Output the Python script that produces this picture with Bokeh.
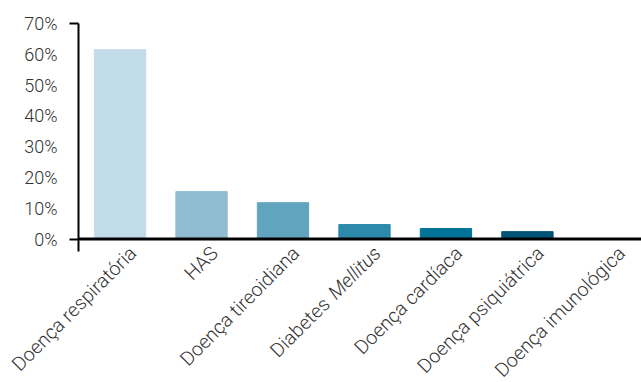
import math
from bokeh.plotting import figure
from bokeh.models import Range1d, FixedTicker, Span, PrintfTickFormatter, ColumnDataSource
from bokeh.core.properties import value
from bokeh.embed import file_html
from bokeh.resources import INLINE

categories = ["Doença respiratória", "HAS", "Doença tireoidiana", "Diabetes Mellitus",
              "Doença cardíaca", "Doença psiquiátrica", "Doença imunológica"]
italic_parts = ["", "", "", "Mellitus", "", "", ""]
values = [61.5, 15.4, 11.8, 4.7, 3.4, 2.4, 0.0]
colors = ["#c2dbe8", "#90bcd2", "#61a4be", "#2e8aab", "#007396", "#005475", "#003f5c"]
y_ticks = [0, 10, 20, 30, 40, 50, 60, 70]

FONT = "Roboto Light"
TEXT_COLOR = "#333333"
LABEL_SIZE = 19.5
ITALIC_SHIFT = 72  # px along the label direction taken by the italic part + space

xs = list(range(1, len(categories) + 1))

p = figure(width=641, height=382, x_range=Range1d(0.49, 7.4), y_range=Range1d(-4.05, 70),
           output_backend="svg", toolbar_location=None,
           min_border_left=78, min_border_right=0, min_border_top=23, min_border_bottom=131)
p.outline_line_color = None
p.xgrid.visible = False
p.ygrid.visible = False
p.xaxis.visible = False

bars = ColumnDataSource(dict(x=xs, top=values, color=colors))
p.vbar(x="x", top="top", bottom=0, width=0.63, color="color", source=bars)

yax = p.yaxis[0]
yax.ticker = FixedTicker(ticks=y_ticks, minor_ticks=[y_ticks[0], y_ticks[-1]])
yax.formatter = PrintfTickFormatter(format="%d%%")
yax.major_tick_out = 0
yax.major_tick_in = 0
yax.minor_tick_out = 9
yax.minor_tick_in = 0
yax.minor_tick_line_width = 2
yax.minor_tick_line_color = "black"
yax.axis_line_width = 2
yax.axis_line_color = "black"
yax.major_label_standoff = 12
yax.major_label_text_font = FONT
yax.major_label_text_font_size = "18px"
yax.major_label_text_color = TEXT_COLOR

p.add_layout(Span(location=0, dimension="width", line_color="black", line_width=3))

plain_texts = [c[: len(c) - len(it)] if it else c for c, it in zip(categories, italic_parts)]
plain_texts = [t.rstrip() for t in plain_texts]
c45 = math.cos(math.pi / 4)
base_dx, base_dy = 13, 11
plain_dx = [base_dx - (ITALIC_SHIFT * c45 if it else 0) for it in italic_parts]
plain_dy = [base_dy + (ITALIC_SHIFT * c45 if it else 0) for it in italic_parts]
lab = ColumnDataSource(dict(x=xs, y=[0] * len(xs), text=plain_texts, dx=plain_dx, dy=plain_dy))
r1 = p.text(x="x", y="y", text="text", x_offset="dx", y_offset="dy", angle=math.pi / 4,
            text_align="right", text_baseline="middle", text_font=value(FONT),
            text_font_size=f"{LABEL_SIZE}px", text_color=TEXT_COLOR, source=lab)
r1.level = "overlay"

it_idx = [i for i, it in enumerate(italic_parts) if it]
itsrc = ColumnDataSource(dict(x=[xs[i] for i in it_idx], y=[0] * len(it_idx),
                              text=[italic_parts[i] for i in it_idx]))
r2 = p.text(x="x", y="y", text="text", x_offset=base_dx, y_offset=base_dy, angle=math.pi / 4,
            text_align="right", text_baseline="middle", text_font=value(FONT),
            text_font_style="italic", text_font_size=f"{LABEL_SIZE}px", text_color=TEXT_COLOR,
            source=itsrc)
r2.level = "overlay"

open("out.html", "w").write(file_html(p, INLINE))
